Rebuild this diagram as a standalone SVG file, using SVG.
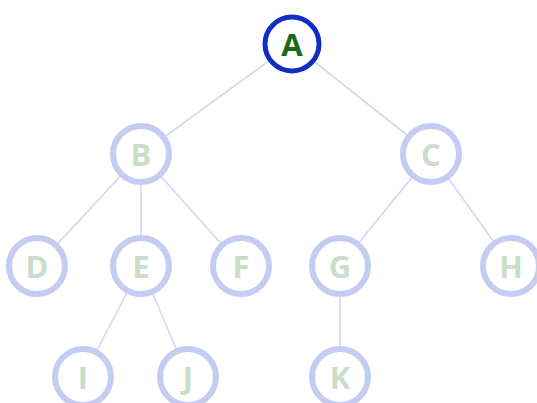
<svg xmlns="http://www.w3.org/2000/svg" width="537" height="403" viewBox="0 0 537 403">
<style>
.edge{stroke:#d0d8f4;stroke-width:1.6;fill:none}
.n circle{fill:#fff;stroke:#c4cdf1;stroke-width:6}
.n text{font-family:"Open Sans","DejaVu Sans",sans-serif;font-weight:bold;font-size:31px;fill:#c8dec8;text-anchor:middle;dominant-baseline:central}
#nA circle{stroke:#0f2fc6;stroke-width:5}
#nA text{fill:#186b1c}
</style>
<rect width="537" height="403" fill="#fff"/>
<g id="edges">
<line class="edge" x1="292" y1="44" x2="141" y2="154"/>
<line class="edge" x1="292" y1="44" x2="431" y2="154"/>
<line class="edge" x1="141" y1="154" x2="37" y2="266"/>
<line class="edge" x1="141" y1="154" x2="141" y2="266"/>
<line class="edge" x1="141" y1="154" x2="241" y2="266"/>
<line class="edge" x1="431" y1="154" x2="340" y2="266"/>
<line class="edge" x1="431" y1="154" x2="511" y2="266"/>
<line class="edge" x1="141" y1="266" x2="83" y2="377"/>
<line class="edge" x1="141" y1="266" x2="188" y2="377"/>
<line class="edge" x1="340" y1="266" x2="340" y2="377"/>
</g>
<g id="nA" class="n"><circle cx="292" cy="44" r="27"/><text x="292" y="44">A</text></g>
<g id="nB" class="n"><circle cx="141" cy="154" r="28"/><text x="141" y="154">B</text></g>
<g id="nC" class="n"><circle cx="431" cy="154" r="28"/><text x="431" y="154">C</text></g>
<g id="nD" class="n"><circle cx="37" cy="266" r="28"/><text x="37" y="266">D</text></g>
<g id="nE" class="n"><circle cx="141" cy="266" r="28"/><text x="141" y="266">E</text></g>
<g id="nF" class="n"><circle cx="241" cy="266" r="28"/><text x="241" y="266">F</text></g>
<g id="nG" class="n"><circle cx="340" cy="266" r="28"/><text x="340" y="266">G</text></g>
<g id="nH" class="n"><circle cx="511" cy="266" r="28"/><text x="511" y="266">H</text></g>
<g id="nI" class="n"><circle cx="83" cy="377" r="28"/><text x="83" y="377">I</text></g>
<g id="nJ" class="n"><circle cx="188" cy="377" r="28"/><text x="188" y="377">J</text></g>
<g id="nK" class="n"><circle cx="340" cy="377" r="28"/><text x="340" y="377">K</text></g>
</svg>
